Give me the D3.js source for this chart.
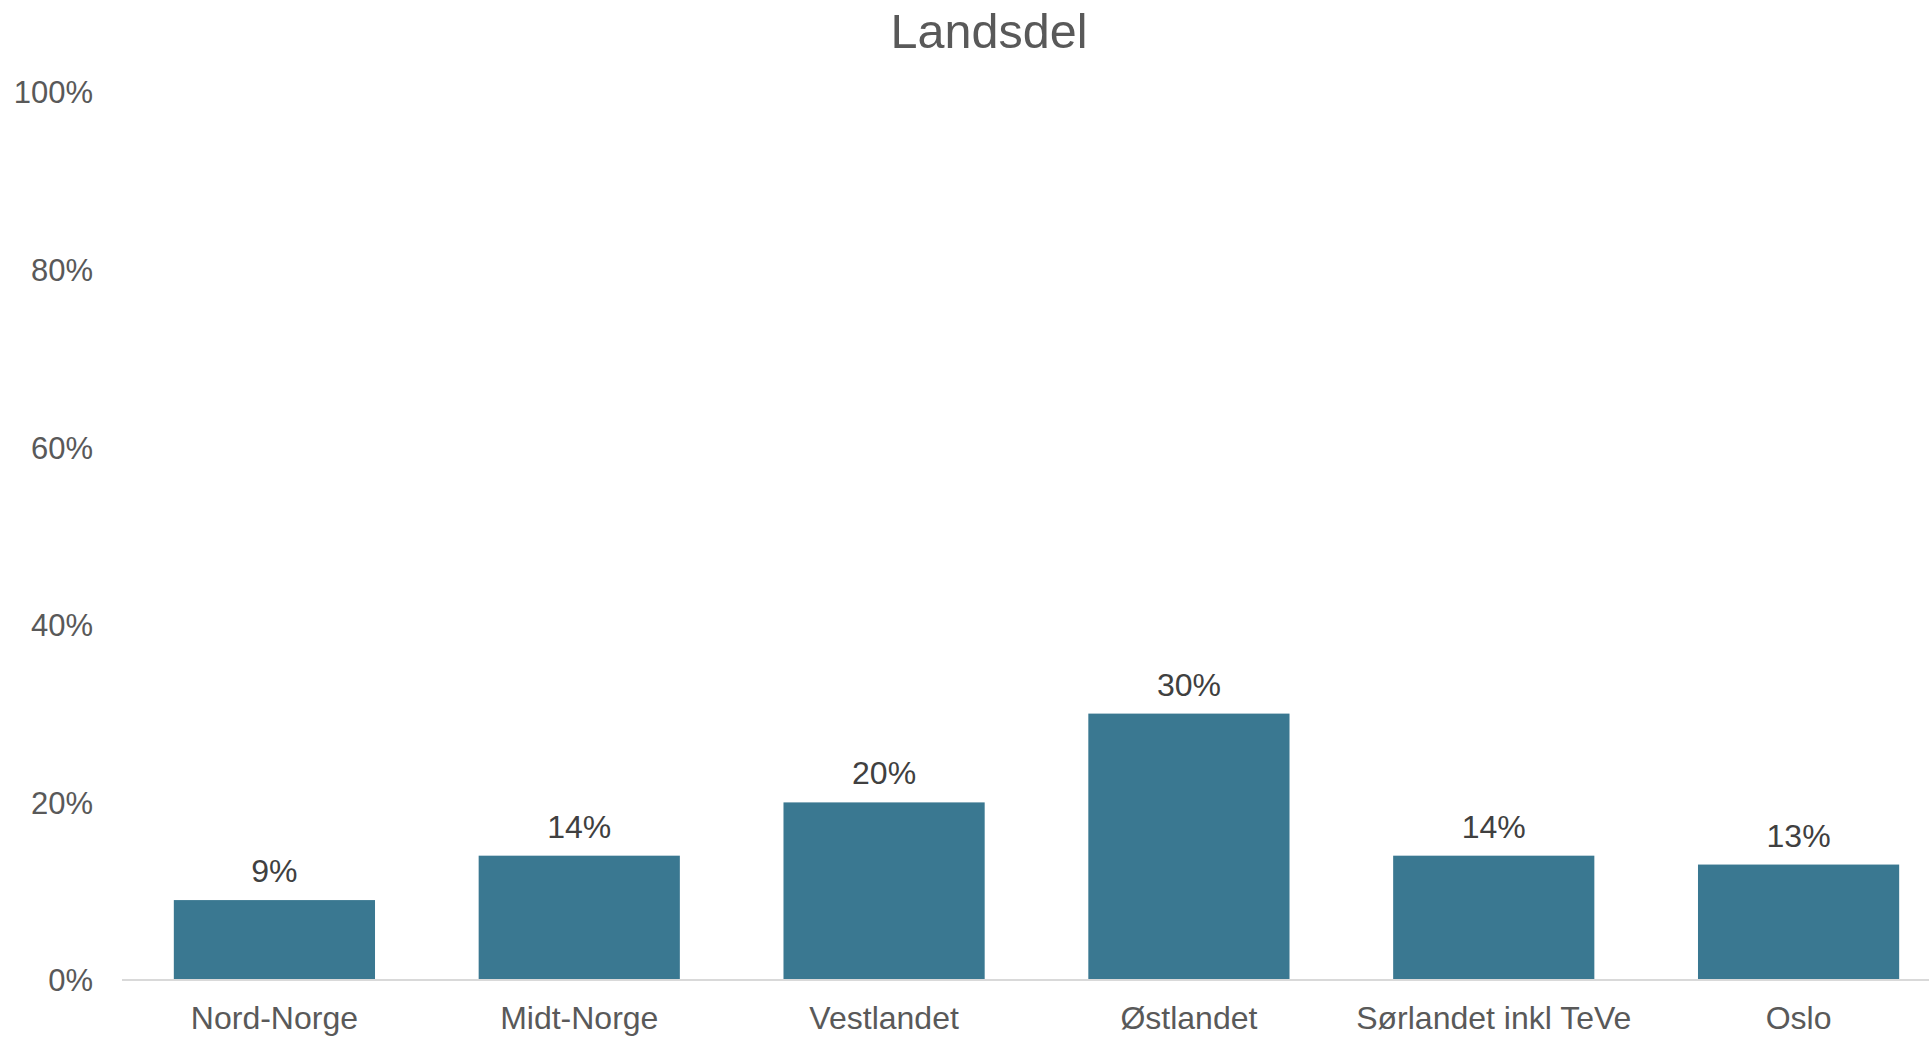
<!DOCTYPE html>
<html>
<head>
<meta charset="utf-8">
<script src="https://cdn.jsdelivr.net/npm/d3@7"></script>
<style>
  html, body { margin: 0; padding: 0; background: #fff; }
  svg { display: block; }
</style>
</head>
<body>
<div id="chart"></div>
<script>
var categories = ["Nord-Norge", "Midt-Norge", "Vestlandet", "Østlandet", "Sørlandet inkl TeVe", "Oslo"];
var values = [9, 14, 20, 30, 14, 13];
var yTicks = [0, 20, 40, 60, 80, 100];
var chartTitle = "Landsdel";

var width = 1929, height = 1037;

var svg = d3.select("#chart").append("svg")
    .attr("width", width)
    .attr("height", height)
    .attr("font-family", "'Liberation Sans', Arial, sans-serif");

var x = d3.scaleBand()
    .domain(categories)
    .range([122, 1951])
    .paddingInner(0.34)
    .paddingOuter(0.17);

var y = d3.scaleLinear()
    .domain([0, 100])
    .range([980, 92]);

// title
svg.append("text")
    .attr("x", 989)
    .attr("y", 48)
    .attr("text-anchor", "middle")
    .attr("font-size", 48.5)
    .attr("fill", "#595959")
    .text(chartTitle);

// y axis labels (no line)
var yAxis = d3.axisLeft(y)
    .tickValues(yTicks)
    .tickSize(0)
    .tickPadding(0)
    .tickFormat(function(d) { return d + "%"; });

var gy = svg.append("g")
    .attr("transform", "translate(93,0)")
    .call(yAxis);
gy.select(".domain").remove();
gy.selectAll("text")
    .attr("font-size", 31)
    .attr("font-family", "'Liberation Sans', Arial, sans-serif")
    .attr("fill", "#595959")
    .attr("dy", "0.35em");

// bars
svg.selectAll(".bar")
    .data(values)
    .enter().append("rect")
    .attr("class", "bar")
    .attr("x", function(d, i) { return x(categories[i]); })
    .attr("y", function(d) { return y(d); })
    .attr("width", x.bandwidth())
    .attr("height", function(d) { return y(0) - y(d); })
    .attr("fill", "#3a7891");

// baseline
svg.append("line")
    .attr("x1", 122)
    .attr("x2", width)
    .attr("y1", y(0))
    .attr("y2", y(0))
    .attr("stroke", "#d9d9d9")
    .attr("stroke-width", 2);

// data labels
svg.selectAll(".lbl")
    .data(values)
    .enter().append("text")
    .attr("class", "lbl")
    .attr("x", function(d, i) { return x(categories[i]) + x.bandwidth() / 2; })
    .attr("y", function(d) { return y(d) - 18; })
    .attr("text-anchor", "middle")
    .attr("font-size", 32)
    .attr("fill", "#404040")
    .text(function(d) { return d + "%"; });

// x axis labels
var xAxis = d3.axisBottom(x).tickSize(0).tickPadding(0);
var gx = svg.append("g")
    .attr("transform", "translate(0,1029)")
    .call(xAxis);
gx.select(".domain").remove();
gx.selectAll("text")
    .attr("font-size", 32)
    .attr("font-family", "'Liberation Sans', Arial, sans-serif")
    .attr("fill", "#595959")
    .attr("dy", 0);
</script>
</body>
</html>
